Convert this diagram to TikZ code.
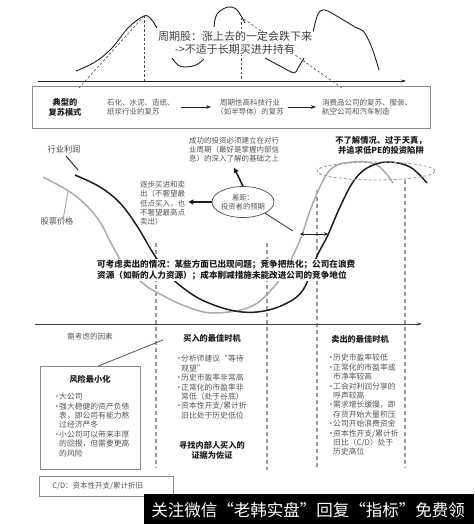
\documentclass[tikz,border=0pt]{standalone}
\usepackage{fontspec}
\setmainfont{Noto Sans CJK SC}
\usetikzlibrary{arrows.meta,shapes.geometric}
\definecolor{tx}{HTML}{555555}
\definecolor{cg}{HTML}{ABABAB}
\definecolor{dg}{HTML}{9A9A9A}
\definecolor{bx}{HTML}{8A8A8A}
\definecolor{bk}{HTML}{1E1E1E}
\newcommand{\bl}{\makebox[6pt][l]{·}}
\newcommand{\ind}{\hspace*{6pt}}
\begin{document}
\begin{tikzpicture}[x=1pt,y=-1pt,
  st/.style={inner sep=0pt, text=tx, font=\fontsize{7.5}{9.6}\selectfont},
  lst/.style={inner sep=0pt, text=tx, align=left, anchor=north west, font=\fontsize{7.8}{9.4}\selectfont},
  bt/.style={inner sep=0pt, text=bk, font=\bfseries\fontsize{8.2}{10}\selectfont},
  arr/.style={-{Stealth[length=5pt,width=3.5pt]}, bk, line width=0.7pt},
  thin curve/.style={bk, line width=0.9pt},
  bcurve/.style={bk, line width=1.5pt},
  gcurve/.style={cg, line width=1.5pt},
  vdash/.style={dg, line width=1.2pt, dash pattern=on 4pt off 3pt},
  tdash/.style={bk!80, line width=0.6pt, dash pattern=on 2.5pt off 2pt},
  boxs/.style={draw=bx, line width=0.7pt, inner sep=0pt}
]
\useasboundingbox (0,0) rectangle (474,524);
\fill[white] (0,0) rectangle (474,524);

% ---------- top section ----------
\draw[thin curve] plot[smooth, tension=0.6] coordinates {(76,71) (95,62) (112,48) (128,28) (144,16) (151,19) (157,28)};
\draw[thin curve] plot[smooth, tension=0.6] coordinates {(172,58) (178,65) (185,67) (196,65) (204,59)};
\draw[thin curve] plot[smooth, tension=0.6] coordinates {(214,27) (217,14) (228,7) (237,10) (245,23)};
\draw[thin curve] plot[smooth, tension=0.5] coordinates {(265,58) (280,66) (294,73) (298,68) (304,58)};
\draw[thin curve] plot[smooth, tension=0.55] coordinates {(313,32) (318,14) (325,10) (340,18) (355,27) (364,32) (372,48) (379,70)};

\coordinate (ax1) at (38,81);
\coordinate (ax2) at (406,81);
\draw[-{Stealth[length=5pt,width=3pt]}, bk, line width=0.7pt] (ax1) -- (ax2);

\coordinate (p1) at (144,16);
\coordinate (p1b) at (144,81);
\coordinate (p2) at (241,18);
\coordinate (p2b) at (241,81);
\coordinate (d1a) at (79,88);
\coordinate (d2a) at (244,19);
\coordinate (d2b) at (342,88);
\draw[tdash] (p1) -- (p1b);
\draw[tdash] (p2) -- (p2b);
\draw[tdash] (d1a) -- (p1);
\draw[tdash] (d2a) -- (d2b);

\node[inner sep=1pt, fill=white, text=bk!85, align=center, font=\fontsize{11}{12.5}\selectfont] (title) at (235,43)
  {周期股：涨上去的一定会跌下来\\->不适于长期买进并持有};

% ---------- recovery box ----------
\node[boxs, anchor=north west, minimum width=398pt, minimum height=42pt] (mbox) at (32,86) {};
\node[bt, align=center] (typ) at (65,107) {典型的\\复苏模式};
\node[st, anchor=west, align=left] (r1) at (107,107) {石化、水泥、造纸、\\纸浆行业的复苏};
\node[st, align=center] (r2) at (250,107) {周期性高科技行业\\（如半导体）的复苏};
\node[st, anchor=west, align=left] (r3) at (322,107) {消费品公司的复苏、服装、\\航空公司和汽车制造};
\draw[arr] ([xshift=6pt]r1.east) -- ([xshift=-5pt]r2.west);
\draw[arr] ([xshift=4pt]r2.east) -- ([xshift=-6pt]r3.west);

% ---------- vertical dashed lines ----------
\coordinate (v1t) at (156,243); \coordinate (v1b) at (156,468);
\coordinate (v2t) at (267,243); \coordinate (v2b) at (267,470);
\coordinate (v3t) at (317,190); \coordinate (v3b) at (317,468);
\coordinate (v4t) at (405,180); \coordinate (v4b) at (405,468);
\draw[vdash] (v1t) -- (v1b);
\draw[vdash] (v2t) -- (v2b);
\draw[vdash] (v3t) -- (v3b);
\draw[vdash] (v4t) -- (v4b);

% ---------- curves ----------
\draw[gcurve] plot[smooth, tension=0.6] coordinates {(43,177) (67,190) (85,204) (100,222) (112,245) (125,266) (145,285) (160,294) (185,306) (213,313) (250,307) (273,288) (288,265) (300,240) (313,203) (330,170) (353,162) (377,165) (393,183)};
\draw[bcurve] plot[smooth, tension=0.6] coordinates {(75,175) (100,187) (120,203) (137,226) (153,253) (165,270) (177,283) (200,299) (230,310) (257,312) (283,305) (303,290) (317,256) (327,237) (340,207) (353,182) (367,168) (387,162) (410,167) (427,183)};

\draw[dg, line width=0.8pt, dash pattern=on 3pt off 2pt] (376pt,-171pt) ellipse [x radius=59pt, y radius=9pt];

% labels of curves
\node[bt, text=bk!85, font=\fontsize{8.2}{10}\selectfont] (prof) at (64,149) {行业利润};
\coordinate (profp) at (78,170);
\draw[bk, line width=0.9pt] ([xshift=2pt,yshift=-3pt]prof.south) -- (profp);
\node[st, text=bk!75, font=\fontsize{8.2}{10}\selectfont] (price) at (57,221) {股票价格};
\coordinate (pricep) at (68,191);
\draw[cg, line width=0.9pt] ([xshift=6pt,yshift=-3pt]price.north) -- (pricep);

% gap ellipse and texts
\node[draw=bk!80, line width=0.7pt, ellipse, minimum width=58pt, minimum height=31pt, inner sep=0pt, align=center, text=tx, font=\fontsize{7.3}{9.5}\selectfont] (gap) at (243,202) {差距：\\投资者的预期};
\node[st, align=center, font=\fontsize{7.5}{9}\selectfont] (succ) at (234,150) {成功的投资必须建立在对行\\业周期（最好是掌握内部信\\息）的深入了解的基础之上};
\node[st, align=left, anchor=north west, font=\fontsize{7.5}{9.3}\selectfont] (step) at (140,181) {逐步买进和卖\\出（不奢望最\\低点买入，也\\不奢望最高点\\卖出）};
\draw[-{Triangle[length=5pt,width=5pt]}, bk, line width=1.6pt] (gap.north) -- ([yshift=-5pt]succ.south);
\draw[-{Triangle[length=5pt,width=5pt]}, bk, line width=1.6pt] (gap.west) -- ([xshift=3pt]step.east |- gap.west);
\coordinate (da1) at (300,234);
\coordinate (da2) at (328,234);
\coordinate (gl) at (293,231);
\draw[bk, line width=0.7pt] (gap.south east) -- (gl);
\draw[{Stealth[length=4pt,width=3.5pt]}-{Stealth[length=4pt,width=3.5pt]}, bk, line width=1pt] (da1) -- (da2);

\node[bt, align=center, font=\bfseries\fontsize{8.3}{9.8}\selectfont] (trap) at (381,145) {不了解情况、过于天真，\\并追求低PE的投资陷阱};

\node[bt, align=left, anchor=north west, fill=white, inner sep=1pt, font=\bfseries\fontsize{8.6}{11}\selectfont] (sell) at (96,259)
 {可考虑卖出的情况：某些方面已出现问题；竞争把热化；公司在浪费\\资源（如新的人力资源）；成本削减措施未能改进公司的竞争地位};

% ---------- lower section ----------
\coordinate (bx1) at (35,324);
\coordinate (bx2) at (422,324);
\draw[-{Stealth[length=5pt,width=3pt]}, bk!85, line width=1pt] (bx1) -- (bx2);

\node[st, font=\fontsize{7.6}{9}\selectfont] (fac) at (90,337) {需考虑的因素};
\node[bt] (buyh) at (212,338) {买入的最佳时机};
\node[bt] (sellh) at (360,339) {卖出的最佳时机};

\node[lst] (buyl) at (175,355) {\bl 分析师建议“等待\\\ind 观望”\\\bl 历史市盈率非常高\\\bl 正常化的市盈率非\\\ind 常低（处于谷底）\\\bl 资本性开支/累计折\\\ind 旧比处于历史低位};
\node[bt, align=center] (ins) at (212,450) {寻找内部人买入的\\证据为佐证};

\node[lst] (selll) at (327,354) {\bl 历史市盈率较低\\\bl 正常化的市盈率或\\\ind 市净率较高\\\bl 工会对利润分享的\\\ind 呼声较高\\\bl 需求增长缓慢，即\\\ind 存货开始大量积压\\\bl 公司开始浪费资金\\\bl 资本性开支/累计折\\\ind 旧比（C/D）处于\\\ind 历史高位};

\node[boxs, anchor=north west, minimum width=100pt, minimum height=103pt] (risk) at (40,366) {};
\node[bt] (riskh) at (90,379) {风险最小化};
\node[lst] (riskl) at (53,393) {\bl 大公司\\\bl 强大稳健的资产负债\\\ind 表，即公司有能力熬\\\ind 过经济严冬\\\bl 小公司可以带来丰厚\\\ind 的回报，但需要更高\\\ind 的风险};
\coordinate (facl) at (163,340);
\draw[bk!75, line width=0.8pt] ([xshift=8pt]risk.north) -- (facl);

\node[boxs, anchor=west, minimum width=134pt, minimum height=20pt, inner xsep=13pt, text width=108pt, align=left, text=tx, font=\fontsize{7.5}{9}\selectfont] (cd) at (39,486) {C/D：资本性开支/累计折旧};

% watermark bar
\fill[black] (144,494) rectangle (474,524);
\node[inner sep=0pt, text=white, font=\fontsize{16.5}{18}\selectfont] (wm) at (308,510) {关注微信“老韩实盘”回复“指标”免费领};
\end{tikzpicture}
\end{document}
